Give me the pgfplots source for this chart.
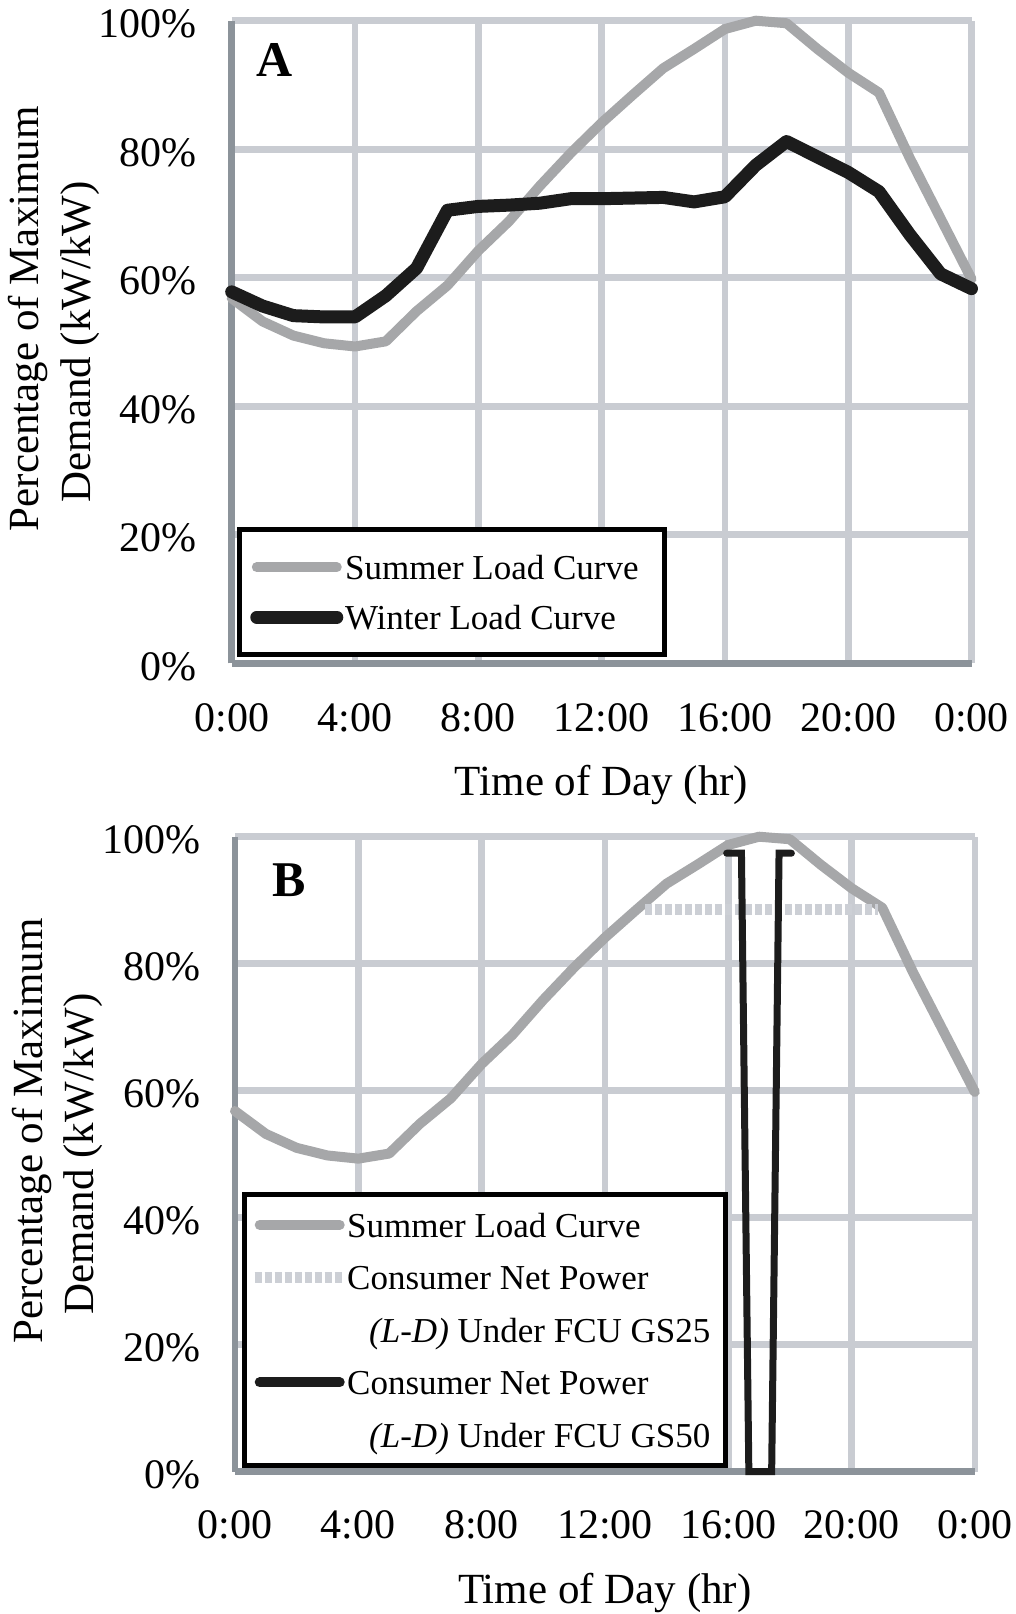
\documentclass[border=0pt]{standalone}
\usepackage{fontspec}
\setmainfont{Liberation Serif}
\usepackage{pgfplots}
\pgfplotsset{compat=1.18}
\usepackage{pgfplotstable}

\definecolor{gridc}{RGB}{201,204,210}
\definecolor{axisc}{RGB}{140,147,154}
\definecolor{summerc}{RGB}{166,167,169}
\definecolor{blackc}{RGB}{28,28,28}
\definecolor{gsc}{RGB}{204,207,213}

\pgfplotstableread{
h s
0 56.8
1 53.2
2 51.0
3 49.8
4 49.3
5 50.1
6 54.8
7 58.8
8 64.2
9 68.8
10 74.3
11 79.4
12 84.1
13 88.4
14 92.6
15 95.6
16 98.7
17 100
18 99.6
19 95.6
20 91.9
21 88.8
22 78.6
23 69.2
24 59.8
}\summer

\pgfplotstableread{
h w
0 57.8
1 55.6
2 54.1
3 53.9
4 53.9
5 57.2
6 61.5
7 70.5
8 71.1
9 71.3
10 71.6
11 72.3
12 72.3
13 72.4
14 72.5
15 71.8
16 72.6
17 77.5
18 81.2
19 78.8
20 76.4
21 73.4
22 66.7
23 60.6
24 58.3
}\winter

\pgfplotstableread{
h v
13.3 88.6
20.85 88.6
}\gstwentyfive

\pgfplotstableread{
h v
15.95 97.4
16.43 97.4
16.67 0
17.41 0
17.65 97.4
18.05 97.4
}\gsfifty

\pgfplotsset{
  gsleg/.style={legend image code/.code={\draw[##1] (-2.5pt,0pt) -- (42.5pt,0pt);}},
  blkleg/.style={legend image code/.code={\draw[##1, line width=5pt] (0pt,0pt) -- (40pt,0pt);}},
  commonax/.style={
    scale only axis, anchor=south west,
    width=369.9pt,
    xmin=0, xmax=24, ymin=0, ymax=100,
    axis lines=left,
    axis line style={draw=axisc, line width=3.3pt, -},
    grid=major,
    grid style={draw=gridc, line width=3.3pt},
    major tick length=0pt,
    tick style={draw=none},
    xtick={0,4,...,24},
    xticklabels={0:00,4:00,8:00,12:00,16:00,20:00,0:00},
    ytick={0,20,...,100},
    yticklabels={0\%,20\%,40\%,60\%,80\%,100\%},
    ticklabel style={font=\fontsize{21}{25}\selectfont, inner sep=0pt},
    yticklabel style={anchor=base east, xshift=-17.2pt, yshift=-8.5pt},
    xlabel={Time of Day (hr)},
    ylabel={\hspace*{23.3pt}Percentage of Maximum\\Demand (kW/kW)},
    label style={font=\fontsize{21.5}{25.85}\selectfont},
    xlabel style={at={(axis description cs:0.5,0)}, anchor=base, yshift=-66pt, inner sep=0pt},
    ylabel style={at={(axis description cs:-0.2399,0.5)}, anchor=center, align=center, inner sep=0pt},
    clip=false,
    legend cell align=left,
  }
}

\begin{document}
\begin{tikzpicture}
\useasboundingbox (0,0) rectangle (508pt,807pt);

% Panel A
\begin{axis}[commonax,
  at={(115.85pt,475.35pt)},
  height=321.3pt,
  xticklabel style={anchor=base, yshift=-34.2pt},
  legend style={at={(0.0069,0.2121)}, anchor=north west, draw=black, line width=2.5pt, fill=white,
    font=\fontsize{17.5}{21}\selectfont, inner xsep=5.5pt, inner ysep=8pt,
    row sep=3.3pt, column sep=0.9pt,
    nodes={inner sep=0pt, text height=17.2pt, text depth=4.5pt}},
  legend image code/.code={\draw[#1] (0pt,0pt) -- (40pt,0pt);},
]
\addplot[summerc, line width=5pt, line cap=round, line join=round] table[x=h,y=s]{\summer};
\addlegendentry{Summer Load Curve\hspace*{7.2pt}}
\addplot[blackc, line width=6.5pt, line cap=round, line join=round] table[x=h,y=w]{\winter};
\addlegendentry{Winter Load Curve}
\node[font=\fontsize{25}{30}\selectfont\bfseries] at (rel axis cs:0.0585,0.939) {A};
\end{axis}

% Panel B
\begin{axis}[commonax,
  at={(117.5pt,71.15pt)},
  height=317.5pt,
  xticklabel style={anchor=base, yshift=-33.2pt},
  legend style={at={(0.0091,0.441)}, anchor=north west, draw=black, line width=2.5pt, fill=white,
    font=\fontsize{17.5}{21}\selectfont, inner xsep=2.5pt, inner ysep=4pt,
    row sep=3.55pt, column sep=-1.5pt,
    nodes={inner sep=0pt, text height=17.5pt, text depth=5.2pt}},
  legend image code/.code={\draw[#1] (0pt,0pt) -- (40pt,0pt);},
]
\addplot[summerc, line width=5pt, line cap=round, line join=round] table[x=h,y=s]{\summer};
\addlegendentry{Summer Load Curve}
\addplot[gsc, line width=5.5pt, line cap=butt, dash pattern=on 3.5pt off 1.5pt, gsleg] table[x=h,y=v]{\gstwentyfive};
\addlegendentry{Consumer Net Power}
\addlegendimage{empty legend}
\addlegendentry{\hspace*{11pt}\textit{(L-D)} Under FCU GS25\hspace*{5pt}}
\addplot[blackc, line width=3.5pt, line cap=round, line join=miter, blkleg] table[x=h,y=v]{\gsfifty};
\addlegendentry{Consumer Net Power}
\addlegendimage{empty legend}
\addlegendentry{\hspace*{11pt}\textit{(L-D)} Under FCU GS50}
\node[font=\fontsize{25}{30}\selectfont\bfseries] at (rel axis cs:0.073,0.932) {B};
\end{axis}
\end{tikzpicture}
\end{document}
